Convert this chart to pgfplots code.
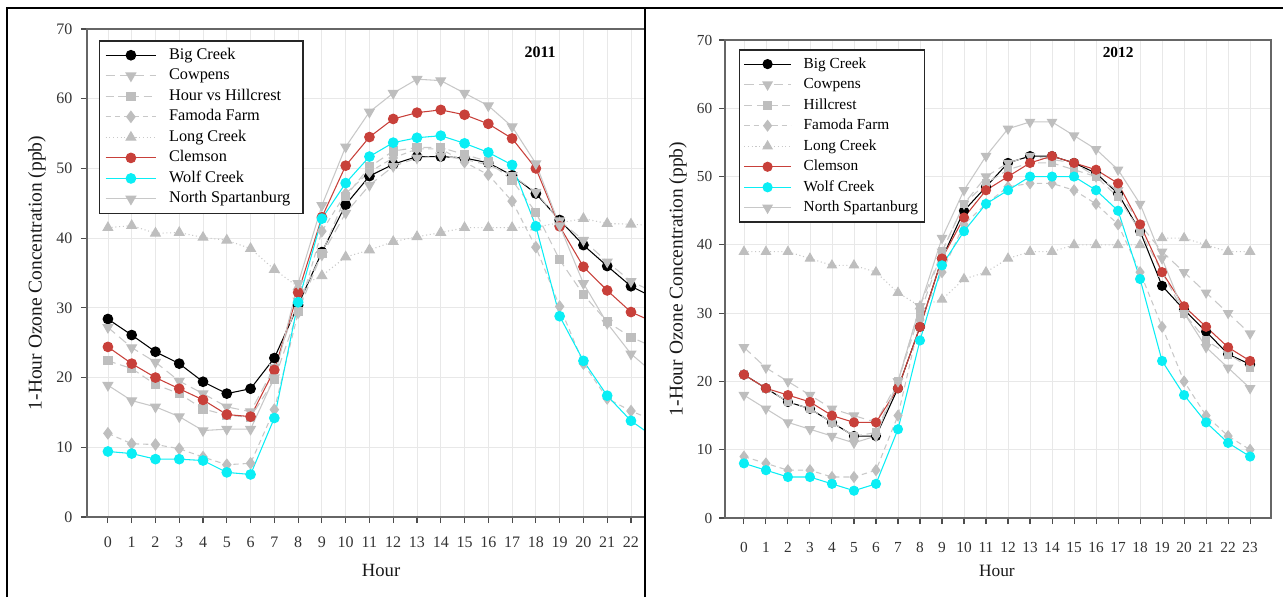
\documentclass[border=0pt]{standalone}
\usepackage{fontspec}
\setmainfont{Liberation Serif}
\usepackage{pgfplots}
\pgfplotsset{compat=1.18}
\usepackage{pgfplotstable}

\definecolor{clem}{RGB}{200,64,58}
\definecolor{wolf}{RGB}{10,238,245}
\definecolor{mk}{RGB}{190,190,190}
\definecolor{ln}{RGB}{200,200,200}

\pgfplotstableread{
h BC CP HC FF LC CL WC NS
0 28.4 27.2 22.4 12.0 41.5 24.4 9.4 18.9
1 26.1 24.3 21.3 10.5 41.8 22.0 9.1 16.7
2 23.7 22.2 19.0 10.4 40.7 20.0 8.3 15.8
3 22.0 19.5 17.7 9.8 40.8 18.4 8.3 14.4
4 19.4 17.7 15.5 8.6 40.1 16.8 8.1 12.4
5 17.7 15.8 14.6 7.5 39.7 14.7 6.4 12.6
6 18.4 15.1 14.3 7.7 38.5 14.4 6.1 12.6
7 22.8 21.5 19.7 15.4 35.5 21.1 14.2 20.0
8 30.4 31.0 29.5 29.3 33.0 32.2 30.8 33.5
9 38.0 37.6 37.8 41.0 34.6 43.0 42.8 44.7
10 44.8 43.6 46.0 46.4 37.3 50.4 47.9 53.1
11 48.9 47.6 50.2 49.5 38.3 54.5 51.7 58.1
12 50.6 50.3 52.5 51.5 39.5 57.1 53.7 60.8
13 51.7 51.5 53.0 52.8 40.2 58.0 54.4 62.8
14 51.7 51.8 53.0 52.8 40.8 58.4 54.7 62.6
15 51.5 51.3 52.0 50.9 41.5 57.7 53.6 60.8
16 50.8 50.5 51.0 49.1 41.5 56.4 52.3 59.0
17 49.0 49.0 48.3 45.3 41.5 54.3 50.5 56.0
18 46.4 46.6 43.7 38.7 41.6 50.0 41.7 50.7
19 42.6 42.5 36.9 30.2 42.2 41.7 28.8 41.8
20 39.0 39.7 31.9 22.0 42.8 35.9 22.4 33.5
21 36.0 36.6 28.0 17.0 42.1 32.5 17.4 27.8
22 33.1 33.8 25.8 15.2 42.0 29.4 13.8 23.4
23 31.4 32.2 24.3 13.8 41.8 27.9 11.4 20.5
}\tA

\pgfplotstableread{
h BC CP HC FF LC CL WC NS
0 21 25 21 9 39 21 8 18
1 19 22 19 8 39 19 7 16
2 17 20 17 7 39 18 6 14
3 16 18 16 7 38 17 6 13
4 14 16 14 6 37 15 5 12
5 12 15 12 6 37 14 4 11
6 12 14 12.5 7 36 14 5 12
7 19 20 20 15 33 19 13 20
8 28 31 30 29 31 28 26 31
9 38 39 39 36 32 38 37 41
10 45 46 46 43 35 44 42 48
11 48.5 50 49 46 36 48 46 53
12 52 52 51 48.5 38 50 48 57
13 53 53 52 49 39 52 50 58
14 53 52.5 52 49 39 53 50 58
15 52 52 51 48 40 52 50 56
16 50.5 50 50 46 40 51 48 54
17 47.5 48 47 43 40 49 45 51
18 42 43 42 36 40 43 35 46
19 34 39 36 28 41 36 23 38
20 30.5 36 30 20 41 31 18 30
21 27.3 33 26 15 40 28 14 25
22 24 30 24 12 39 25 11 22
23 22.5 27 22 10 39 23 9 19
}\tB

\pgfplotsset{
  common/.style={
    scale only axis,
    ymin=0, ymax=70, ytick={0,10,...,70},
    grid=major, grid style={black!9, line width=0.6pt},
    axis line style={black!60, line width=1.1pt},
    tick align=outside, xtick pos=left, ytick pos=left,
    major tick length=4.5pt,
    tick style={black!70, line width=0.8pt},
    ticklabel style={text=black!80},
    /pgf/number format/assume math mode=true,
    legend cell align=left,
    ylabel={1-Hour Ozone Concentration (ppb)},
    xlabel={Hour},
    ylabel style={font=\fontsize{14.6}{16}\selectfont, text=black!90},
  },
  bc/.style={black, line width=0.8pt, mark=*, mark options={solid, fill=black}},
  cp/.style={ln, line width=0.8pt, dash pattern=on 7pt off 4pt, mark=triangle*, mark options={solid, draw=mk, fill=mk, rotate=180, scale=1.15}},
  hc/.style={ln, line width=0.8pt, dash pattern=on 6pt off 3.5pt, mark=square*, mark options={solid, draw=mk, fill=mk, scale=0.85}},
  ff/.style={ln, line width=0.8pt, dash pattern=on 4pt off 3pt, mark=diamond*, mark options={solid, draw=mk, fill=mk, scale=1.15}},
  lc/.style={ln, line width=0.8pt, dash pattern=on 0.8pt off 2pt, mark=triangle*, mark options={solid, draw=mk, fill=mk, scale=1.15}},
  cl/.style={clem, line width=0.8pt, mark=*, mark options={solid, fill=clem}},
  wc/.style={wolf, line width=0.8pt, mark=*, mark options={solid, fill=wolf}},
  ns/.style={ln, line width=0.8pt, mark=triangle*, mark options={solid, draw=mk, fill=mk, rotate=180, scale=1.15}},
}

\begin{document}
\begin{tikzpicture}
\path[use as bounding box] (0,0) rectangle (962.25pt,447.75pt);

\begin{axis}[common,
  at={(65.25pt,60pt)}, anchor=south west,
  width=418.5pt, height=366pt,
  xmin=-0.88, xmax=22.59, xtick={0,...,22},
  ticklabel style={font=\fontsize{12}{14}\selectfont},
  xticklabel style={yshift=-7pt},
  yticklabel style={xshift=-3pt},
  mark size=3.6pt,
  xlabel style={at={(axis description cs:0.527,-0.1096)}, anchor=center, font=\fontsize{14}{16}\selectfont, text=black!90},
  ylabel style={at={(axis description cs:-0.0896,0.5)}, anchor=center},
  legend image code/.code={\draw[mark repeat=2,mark phase=2] plot coordinates {(0pt,0pt)(19pt,0pt)(38pt,0pt)}; \path (45.5pt,0pt);},
  legend style={at={(0.0215,0.977)}, anchor=north west, draw=black!85, line width=1.1pt, fill=white,
    font=\fontsize{12.2}{14}\selectfont, inner xsep=4pt, inner ysep=3pt, row sep=0pt,
    nodes={inner sep=1.7pt, text height=9pt, text depth=3pt}},
]
\addplot[bc] table[x=h,y=BC]{\tA};
\addplot[cp] table[x=h,y=CP]{\tA};
\addplot[hc] table[x=h,y=HC]{\tA};
\addplot[ff] table[x=h,y=FF]{\tA};
\addplot[lc] table[x=h,y=LC]{\tA};
\addplot[cl] table[x=h,y=CL]{\tA};
\addplot[wc] table[x=h,y=WC]{\tA};
\addplot[ns] table[x=h,y=NS]{\tA};
\legend{Big Creek, Cowpens, Hour vs Hillcrest, Famoda Farm, Long Creek, Clemson, Wolf Creek, North Spartanburg\hspace*{4pt}}
\node[font=\bfseries\fontsize{12}{14}\selectfont] at (rel axis cs:0.812,0.953) {2011};
\end{axis}

\begin{axis}[common,
  at={(543.75pt,59.25pt)}, anchor=south west,
  width=409.5pt, height=358.5pt,
  xmin=-0.86, xmax=23.95, xtick={0,...,23},
  ticklabel style={font=\fontsize{11.5}{13}\selectfont},
  xticklabel style={yshift=-10pt},
  yticklabel style={xshift=-1.5pt},
  mark size=3.4pt,
  xlabel style={at={(axis description cs:0.498,-0.1109)}, anchor=center, font=\fontsize{13}{15}\selectfont, text=black!90},
  ylabel style={at={(axis description cs:-0.0861,0.5)}, anchor=center},
  legend image code/.code={\draw[mark repeat=2,mark phase=2] plot coordinates {(0pt,0pt)(17.5pt,0pt)(35pt,0pt)}; \path (42.5pt,0pt);},
  legend style={at={(0.0256,0.981)}, anchor=north west, draw=black!85, line width=1.1pt, fill=white,
    font=\fontsize{11.5}{13}\selectfont, inner xsep=3pt, inner ysep=3pt, row sep=0pt,
    nodes={inner sep=1.7pt, text height=9pt, text depth=3pt}},
]
\addplot[bc] table[x=h,y=BC]{\tB};
\addplot[cp] table[x=h,y=CP]{\tB};
\addplot[hc] table[x=h,y=HC]{\tB};
\addplot[ff] table[x=h,y=FF]{\tB};
\addplot[lc] table[x=h,y=LC]{\tB};
\addplot[cl] table[x=h,y=CL]{\tB};
\addplot[wc] table[x=h,y=WC]{\tB};
\addplot[ns] table[x=h,y=NS]{\tB};
\legend{Big Creek, Cowpens, Hillcrest, Famoda Farm, Long Creek, Clemson, Wolf Creek, North Spartanburg}
\node[font=\bfseries\fontsize{11.5}{13}\selectfont] at (rel axis cs:0.72,0.973) {2012};
\end{axis}

\draw[line width=1.5pt] (5.25pt,0pt) -- (5.25pt,441.75pt) -- (962.25pt,441.75pt);
\draw[line width=1.5pt] (483.75pt,0pt) -- (483.75pt,441.75pt);
\end{tikzpicture}
\end{document}
